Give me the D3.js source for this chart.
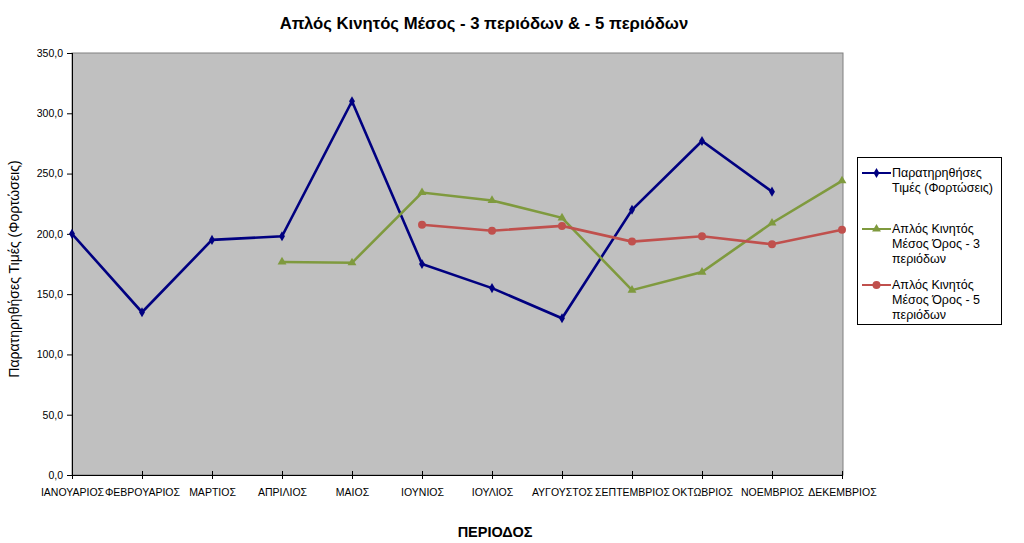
<!DOCTYPE html>
<html>
<head>
<meta charset="utf-8">
<script src="https://cdn.jsdelivr.net/npm/d3@7"></script>
<style>
  body { margin: 0; background: #fff; }
  svg { display: block; font-family: "Liberation Sans", Arial, sans-serif; }
  .axis text { font-size: 10.5px; fill: #000; font-family: "Liberation Sans", Arial, sans-serif; }
  .axis line, .axis path { stroke: #000; }
</style>
</head>
<body>
<div id="chart"></div>
<script>
const title = "Απλός Κινητός Μέσος - 3 περιόδων & - 5 περιόδων"
const xLabel = "ΠΕΡΙΟΔΟΣ"
const yLabel = "Παρατηρηθήσες Τιμές (Φορτώσεις)"

const months = [
  "ΙΑΝΟΥΑΡΙΟΣ", "ΦΕΒΡΟΥΑΡΙΟΣ", "ΜΑΡΤΙΟΣ", "ΑΠΡΙΛΙΟΣ", "ΜΑΙΟΣ", "ΙΟΥΝΙΟΣ",
  "ΙΟΥΛΙΟΣ", "ΑΥΓΟΥΣΤΟΣ", "ΣΕΠΤΕΜΒΡΙΟΣ", "ΟΚΤΩΒΡΙΟΣ", "ΝΟΕΜΒΡΙΟΣ", "ΔΕΚΕΜΒΡΙΟΣ",
]

// null = no value for that month
const observed = [200, 135, 195, 198, 310, 175, 155, 130, 220, 277, 235, null]
const ma3 = [null, null, null, 176.7, 176.0, 234.3, 227.7, 213.3, 153.3, 168.3, 209.0, 244.0]
const ma5 = [null, null, null, null, null, 207.6, 202.6, 206.6, 193.6, 198.0, 191.4, 203.4]

const yTicks = [0, 50, 100, 150, 200, 250, 300, 350]

const seriesInfo = [
  { key: "observed", values: observed, color: "#000080", symbol: d3.symbolDiamond, size: 30,
    label: ["Παρατηρηθήσες", "Τιμές (Φορτώσεις)"] },
  { key: "ma3", values: ma3, color: "#7F9A3E", symbol: d3.symbolTriangle, size: 34,
    label: ["Απλός Κινητός", "Μέσος Όρος - 3", "περιόδων"] },
  { key: "ma5", values: ma5, color: "#C0504D", symbol: d3.symbolCircle, size: 50,
    label: ["Απλός Κινητός", "Μέσος Όρος - 5", "περιόδων"] },
]

const width = 1024
const height = 543
const margin = { top: 53, right: 181, bottom: 68, left: 72 }
const innerWidth = width - margin.left - margin.right
const innerHeight = height - margin.top - margin.bottom

const svg = d3.select("#chart")
  .append("svg")
  .attr("width", width)
  .attr("height", height)

const group = svg.append("g")
  .attr("transform", `translate(${margin.left},${margin.top})`)

// Scales: categories sit on the tick marks
const x = d3.scalePoint().domain(months).range([0, innerWidth - 1])
const y = d3.scaleLinear().domain([0, 350]).range([innerHeight, 0])

// Plot background
group.append("rect")
  .attr("width", innerWidth)
  .attr("height", innerHeight)
  .attr("fill", "#C0C0C0")
  .attr("stroke", "#808080")
  .attr("stroke-width", 1)

// Axes
group.append("g")
  .attr("class", "axis y")
  .call(d3.axisLeft(y).tickValues(yTicks).tickSize(5).tickPadding(4)
    .tickFormat(d => d3.format(".1f")(d).replace(".", ",")))
  .call(g => g.attr("font-family", null).attr("font-size", null))
  .call(g => g.select(".domain").attr("d", `M0.5,0V${innerHeight}`))

group.append("g")
  .attr("class", "axis x")
  .attr("transform", `translate(0,${innerHeight})`)
  .call(d3.axisBottom(x).tickSize(5).tickSizeOuter(0).tickPadding(9))
  .call(g => g.attr("font-family", null).attr("font-size", null))
  .call(g => g.select(".domain").attr("d", `M0,0.5H${innerWidth}`))
  .call(g => g.selectAll(".tick line").attr("y1", -4).attr("y2", 4))

// Titles
svg.append("text")
  .text(title)
  .attr("x", 484)
  .attr("y", 29)
  .attr("text-anchor", "middle")
  .style("font-size", "16.7px")
  .style("font-weight", "bold")

svg.append("text")
  .text(xLabel)
  .attr("x", 495)
  .attr("y", 537)
  .attr("text-anchor", "middle")
  .style("font-size", "14.5px")
  .style("font-weight", "bold")

svg.append("text")
  .text(yLabel)
  .attr("text-anchor", "middle")
  .attr("transform", `translate(19,${margin.top + innerHeight / 2 + 5}) rotate(-90)`)
  .style("font-size", "14px")

// Lines and markers
const line = d3.line()
  .defined(d => d.value !== null)
  .x(d => x(d.month))
  .y(d => y(d.value))

seriesInfo.forEach(s => {
  const pts = months.map((m, i) => ({ month: m, value: s.values[i] }))
  group.append("path")
    .datum(pts)
    .attr("d", line)
    .attr("fill", "none")
    .attr("stroke", s.color)
    .attr("stroke-width", 2.6)

  group.append("g")
    .selectAll("path")
    .data(pts.filter(d => d.value !== null))
    .join("path")
    .attr("d", d3.symbol().type(s.symbol).size(s.size))
    .attr("transform", d => `translate(${x(d.month)},${y(d.value)})`)
    .attr("fill", s.color)
})

// Legend
const legend = svg.append("g").attr("transform", "translate(857,157)")
legend.append("rect")
  .attr("x", 0.5).attr("y", 0.5)
  .attr("width", 144).attr("height", 167)
  .attr("fill", "#fff")
  .attr("stroke", "#000")

const legendY = [16, 72, 128]
seriesInfo.forEach((s, i) => {
  const item = legend.append("g").attr("transform", `translate(0,${legendY[i]})`)
  item.append("line")
    .attr("x1", 5).attr("x2", 34)
    .attr("y1", 0).attr("y2", 0)
    .attr("stroke", s.color)
    .attr("stroke-width", 2)
  item.append("path")
    .attr("d", d3.symbol().type(s.symbol).size(s.size))
    .attr("transform", "translate(19.5,0)")
    .attr("fill", s.color)
  item.append("text")
    .attr("x", 35)
    .attr("y", 4)
    .style("font-size", "12.5px")
    .selectAll("tspan")
    .data(s.label)
    .join("tspan")
    .attr("x", 35)
    .attr("dy", (d, j) => j === 0 ? 0 : 15)
    .text(d => d)
})
</script>
</body>
</html>
